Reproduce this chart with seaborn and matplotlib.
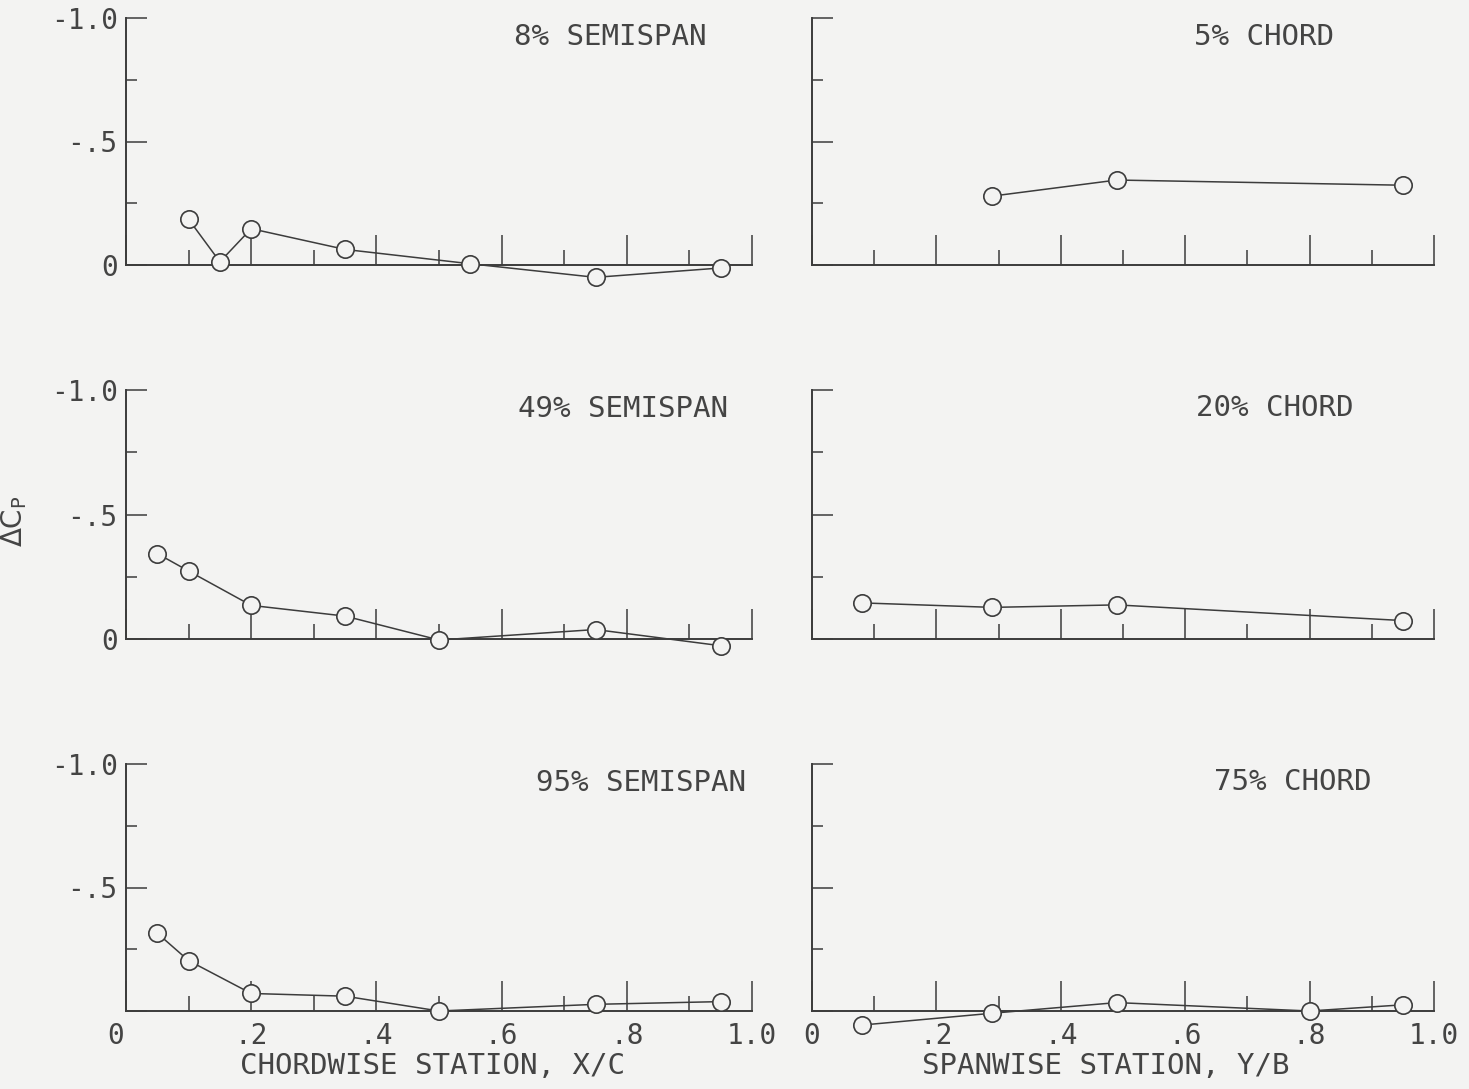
import matplotlib
matplotlib.use("Agg")
import matplotlib.pyplot as plt
import matplotlib.transforms as mtransforms
import seaborn as sns
import pandas as pd

# ---------------- data ----------------
semispan_titles = ["8% SEMISPAN", "49% SEMISPAN", "95% SEMISPAN"]
chord_titles = ["5% CHORD", "20% CHORD", "75% CHORD"]

x_semi_8 = [0.10, 0.15, 0.20, 0.35, 0.55, 0.75, 0.95]
dcp_semi_8 = [-0.185, -0.013, -0.147, -0.063, -0.005, 0.050, 0.012]

x_semi_49 = [0.05, 0.10, 0.20, 0.35, 0.50, 0.75, 0.95]
dcp_semi_49 = [-0.343, -0.273, -0.135, -0.092, 0.004, -0.038, 0.027]

x_semi_95 = [0.05, 0.10, 0.20, 0.35, 0.50, 0.75, 0.95]
dcp_semi_95 = [-0.315, -0.204, -0.071, -0.060, 0.0, -0.027, -0.038]

y_chord_5 = [0.29, 0.49, 0.95]
dcp_chord_5 = [-0.279, -0.344, -0.323]

y_chord_20 = [0.08, 0.29, 0.49, 0.95]
dcp_chord_20 = [-0.145, -0.127, -0.137, -0.074]

y_chord_75 = [0.08, 0.29, 0.49, 0.80, 0.95]
dcp_chord_75 = [0.057, 0.009, -0.034, 0.0, -0.025]

x_tick_vals = [0.0, 0.2, 0.4, 0.6, 0.8, 1.0]
x_tick_labels = ["0", ".2", ".4", ".6", ".8", "1.0"]
x_minor_vals = [0.1, 0.3, 0.5, 0.7, 0.9]
y_tick_vals = [-1.0, -0.5, 0.0]
y_tick_labels = ["-1.0", "-.5", "0"]
y_minor_vals = [-0.75, -0.25]

xlabel_left = "CHORDWISE STATION, X/C"
xlabel_right = "SPANWISE STATION, Y/B"
ylabel_text = r"$\Delta\mathrm{C}_\mathrm{P}$"

# ---------------- style ----------------
sns.set_theme(style="white")
plt.rcParams["font.family"] = ["DejaVu Sans Mono", "DejaVu Sans"]
plt.rcParams["mathtext.fontset"] = "dejavusans"

BG = "#f3f3f2"
INK = "#3c3c3c"
TXT = "#444444"

W, H = 1469, 1089
fig = plt.figure(figsize=(W / 100, H / 100), dpi=100)
fig.patch.set_facecolor(BG)

rows_px = [(18, 265), (390, 639), (764, 1011)]
cols_px = [(126, 626), (812, 622)]

left_data = [(x_semi_8, dcp_semi_8), (x_semi_49, dcp_semi_49), (x_semi_95, dcp_semi_95)]
right_data = [(y_chord_5, dcp_chord_5), (y_chord_20, dcp_chord_20), (y_chord_75, dcp_chord_75)]

left_title_pos = [(0.927, 0.923), (0.962, 0.924), (0.990, 0.923)]
right_title_pos = [(0.839, 0.925), (0.870, 0.928), (0.900, 0.927)]

FS_TICK = 20
FS_TEXT = 21


def make_axes(col, row):
    x0, w = cols_px[col]
    top, bot = rows_px[row]
    rect = [x0 / W, 1 - bot / H, w / W, (bot - top) / H]
    ax = fig.add_axes(rect)
    ax.set_facecolor("none")
    return ax


def style_axes(ax, show_ylabels, show_xlabels, drop_zero_ylabel=False):
    ax.set_xlim(0, 1.0)
    ax.set_ylim(0, -1.0)
    for s in ["top", "right"]:
        ax.spines[s].set_visible(False)
    for s in ["left", "bottom"]:
        ax.spines[s].set_color(INK)
        ax.spines[s].set_linewidth(1.4)
    ax.set_xticks(x_tick_vals)
    ax.set_xticks(x_minor_vals, minor=True)
    ax.set_yticks(y_tick_vals)
    ax.set_yticks(y_minor_vals, minor=True)
    ax.tick_params(axis="x", which="both", bottom=True, top=False)
    ax.tick_params(axis="y", which="both", left=True, right=False)
    ax.tick_params(axis="x", which="major", direction="in", length=21.6, width=1.1,
                   color=INK, pad=8, labelsize=FS_TICK, labelcolor=TXT)
    ax.tick_params(axis="x", which="minor", direction="in", length=10.8, width=1.1, color=INK)
    ax.tick_params(axis="y", which="major", direction="in", length=15, width=1.1,
                   color=INK, pad=6, labelsize=FS_TICK, labelcolor=TXT)
    ax.tick_params(axis="y", which="minor", direction="in", length=8, width=1.1, color=INK)
    if show_xlabels:
        ax.set_xticklabels(x_tick_labels)
    else:
        ax.set_xticklabels([""] * len(x_tick_vals))
    if show_ylabels:
        labs = list(y_tick_labels)
        if drop_zero_ylabel:
            labs[-1] = ""
        ax.set_yticklabels(labs)
    else:
        ax.set_yticklabels([""] * len(y_tick_vals))
    ax.set_xlabel("")
    ax.set_ylabel("")


def draw_series(ax, xs, ys):
    df = pd.DataFrame({"station": xs, "dcp": ys})
    sns.lineplot(data=df, x="station", y="dcp", ax=ax, color=INK, linewidth=1.1,
                 marker="o", markersize=12.5, markerfacecolor=BG,
                 markeredgecolor=INK, markeredgewidth=1.2, clip_on=False, zorder=4)


for r in range(3):
    # left column (chordwise)
    ax = make_axes(0, r)
    xs, ys = left_data[r]
    draw_series(ax, xs, ys)
    style_axes(ax, show_ylabels=True, show_xlabels=(r == 2), drop_zero_ylabel=(r == 2))
    tx, ty = left_title_pos[r]
    ax.text(tx, ty, semispan_titles[r], transform=ax.transAxes, ha="right", va="center",
            fontsize=FS_TEXT, color=TXT)
    if r == 1:
        ax.set_ylabel(ylabel_text, fontsize=FS_TICK, color=TXT)
        ax.yaxis.set_label_coords(-0.155, 0.474)
    if r == 2:
        ax.set_xlabel(xlabel_left, fontsize=FS_TEXT, color=TXT)
        ax.xaxis.set_label_coords(0.489, -0.223)
        ax.xaxis.label.set_va("center")
        lab0 = ax.get_xticklabels()[0]
        lab0.set_transform(lab0.get_transform() +
                           mtransforms.ScaledTranslation(-10 / 100, 0, fig.dpi_scale_trans))

    # right column (spanwise)
    ax = make_axes(1, r)
    xs, ys = right_data[r]
    draw_series(ax, xs, ys)
    style_axes(ax, show_ylabels=False, show_xlabels=(r == 2))
    tx, ty = right_title_pos[r]
    ax.text(tx, ty, chord_titles[r], transform=ax.transAxes, ha="right", va="center",
            fontsize=FS_TEXT, color=TXT)
    if r == 2:
        ax.set_xlabel(xlabel_right, fontsize=FS_TEXT, color=TXT)
        ax.xaxis.set_label_coords((1106 - 812) / 622, -0.223)
        ax.xaxis.label.set_va("center")

fig.savefig("out.png", dpi=100, facecolor=BG)
